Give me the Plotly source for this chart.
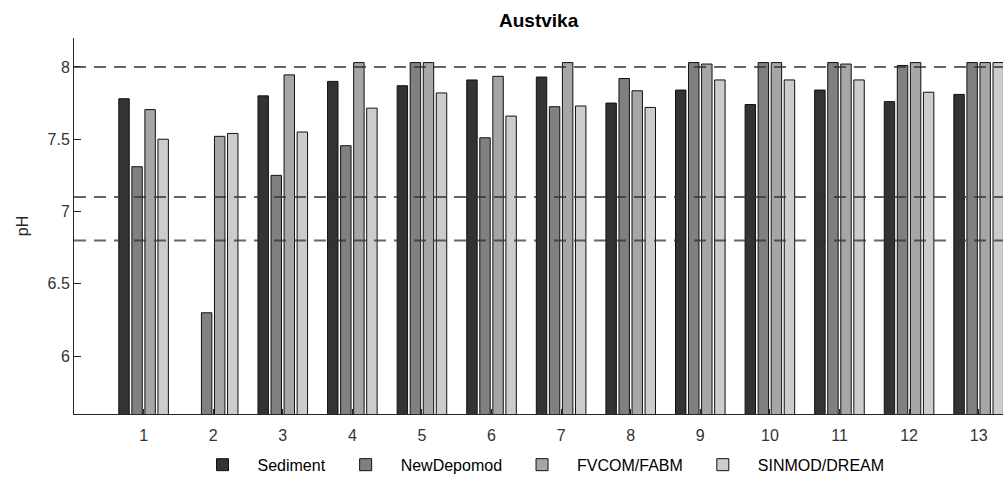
import plotly.graph_objects as go

stations = list(range(1, 14))
sediment   = [7.78, None, 7.80, 7.90, 7.87, 7.91, 7.93, 7.75, 7.84, 7.74, 7.84, 7.76, 7.81]
newdepomod = [7.31, 6.30, 7.25, 7.455, 8.03, 7.51, 7.725, 7.92, 8.03, 8.03, 8.03, 8.01, 8.03]
fvcom_fabm = [7.705, 7.52, 7.945, 8.03, 8.03, 7.935, 8.03, 7.835, 8.02, 8.03, 8.02, 8.03, 8.03]
sinmod     = [7.50, 7.54, 7.55, 7.715, 7.82, 7.66, 7.73, 7.72, 7.91, 7.91, 7.91, 7.825, 8.03]
series_names = ["Sediment", "NewDepomod", "FVCOM/FABM", "SINMOD/DREAM"]
series_colors = ["#333333", "#808080", "#a6a6a6", "#cccccc"]
threshold_lines = [8.0, 7.1, 6.8]
y_ticks = [6, 6.5, 7, 7.5, 8]

fig = go.Figure()
for name, vals, col in zip(series_names, [sediment, newdepomod, fvcom_fabm, sinmod], series_colors):
    fig.add_trace(go.Bar(
        x=stations, y=vals, name=name, base=0,
        marker=dict(color=col, line=dict(color="#111111", width=1)),
    ))

for yv in threshold_lines:
    fig.add_shape(type="line", xref="paper", yref="y", x0=0, x1=1, y0=yv, y1=yv,
                  line=dict(color="rgba(50,50,50,0.75)", width=2, dash="12px,8px"),
                  layer="above")

W, H = 1003, 486
tick_font = dict(family="Liberation Sans, Arial, sans-serif", size=16, color="#333333")
fig.update_layout(
    width=W, height=H,
    margin=dict(l=74, r=0, t=38, b=72, autoexpand=False),
    paper_bgcolor="white", plot_bgcolor="white",
    barmode="group", bargap=0.25, bargroupgap=0.2,
    font=dict(family="Liberation Sans, Arial, sans-serif", size=16, color="#262626"),
    title=dict(text="<b>Austvika</b>", x=0.537, xanchor="center", y=1 - 20 / H, yanchor="middle",
               font=dict(size=19, color="#000000")),
    showlegend=True,
    legend=dict(orientation="h", x=0.5, xanchor="center", y=-0.135, yanchor="middle",
                font=dict(size=16, color="#000000"), itemwidth=60, traceorder="normal"),
    xaxis=dict(range=[0, 13.35], tickmode="array", tickvals=stations,
               ticktext=[str(s) for s in stations], ticks="inside", ticklen=5,
               tickfont=tick_font,
               tickcolor="#262626", showline=True, linecolor="#262626", linewidth=1,
               showgrid=False, zeroline=False, automargin=False, ticklabelstandoff=7),
    yaxis=dict(range=[5.6, 8.2], tickmode="array", tickvals=y_ticks,
               ticktext=[str(t) for t in y_ticks], ticks="inside", ticklen=7,
               tickfont=tick_font,
               tickcolor="#262626", showline=True, linecolor="#262626", linewidth=1,
               showgrid=False, zeroline=False, automargin=False,
               title=dict(text="pH", standoff=14, font=dict(size=16, color="#262626"))),
)

fig.write_html("out.html", config={"displayModeBar": False},
               post_script="document.body.style.margin='0';document.body.style.overflow='hidden';")
